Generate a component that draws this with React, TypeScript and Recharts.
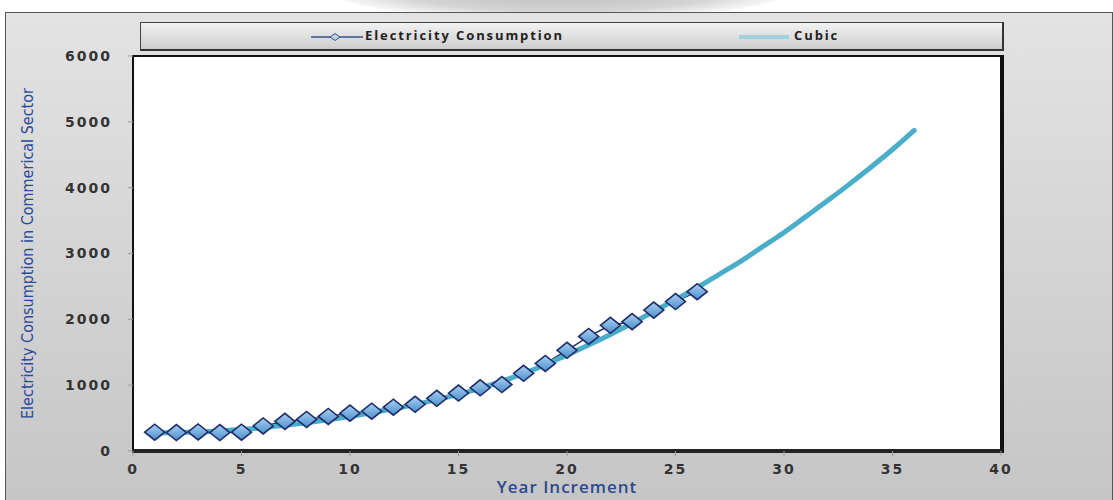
import { ComposedChart, Line, XAxis, YAxis } from 'recharts';

const years = [1, 2, 3, 4, 5, 6, 7, 8, 9, 10, 11, 12, 13, 14, 15, 16, 17, 18, 19, 20, 21, 22, 23, 24, 25, 26];
const consumption = [285, 280, 290, 280, 285, 380, 450, 480, 525, 575, 605, 665, 710, 800, 880, 960, 1010, 1180, 1330, 1530, 1740, 1910, 1965, 2140, 2270, 2420];

const cubicYears = [1, 2, 3, 4, 5, 6, 7, 8, 9, 10, 11, 12, 13, 14, 15, 16, 17, 18, 19, 20, 21, 22, 23, 24, 25, 26, 27, 28, 29, 30, 31, 32, 33, 34, 35, 36];
const cubicFit = [275, 280, 290, 305, 325, 355, 390, 430, 475, 525, 580, 640, 705, 780, 860, 950, 1060, 1180, 1310, 1460, 1610, 1770, 1940, 2120, 2300, 2480, 2680, 2880, 3100, 3320, 3560, 3800, 4050, 4310, 4580, 4870];

const xTicks = [0, 5, 10, 15, 20, 25, 30, 35, 40];
const yTicks = [0, 1000, 2000, 3000, 4000, 5000, 6000];

const consumptionData = years.map((x, i) => ({ x, y: consumption[i] }));
const cubicData = cubicYears.map((x, i) => ({ x, y: cubicFit[i] }));

const tickStyle = { fontFamily: 'DejaVu Sans', fontWeight: 'bold', fontSize: 14, letterSpacing: 2, fill: '#333' };

function Diamond(props: any) {
  const { cx, cy } = props;
  if (cx == null || cy == null) return null;
  return (
    <polygon
      points={`${cx - 10},${cy} ${cx},${cy - 8} ${cx + 10},${cy} ${cx},${cy + 8}`}
      fill="url(#diamondFill)"
      stroke="#1f2c6a"
      strokeWidth={1.6}
    />
  );
}

function YTitle({ viewBox }: any) {
  const y = viewBox.y + viewBox.height / 2;
  return (
    <text
      x={27}
      y={y}
      transform={`rotate(-90 27 ${y})`}
      textAnchor="middle"
      dominantBaseline="central"
      style={{ fontFamily: "'DejaVu Sans Condensed', 'Liberation Sans Narrow', 'Roboto', sans-serif", fontSize: 16, fill: '#2b4a9a' }}
    >
      Electricity Consumption in Commerical Sector
    </text>
  );
}

function XTitle({ viewBox }: any) {
  const x = viewBox.x + viewBox.width / 2;
  return (
    <text
      x={x}
      y={493}
      textAnchor="middle"
      style={{ fontFamily: 'Open Sans', fontWeight: 600, fontSize: 17, letterSpacing: 1, fill: '#2e4a8c' }}
    >
      Year Increment
    </text>
  );
}

const legendText = { fontFamily: 'Open Sans', fontWeight: 'bold', fontSize: 13, letterSpacing: 1.9, color: '#222' } as const;

export default function App() {
  return (
    <div style={{ position: 'absolute', left: 0, top: 0, width: 1113, height: 500, overflow: 'hidden', background: '#fff' }}>
      <div style={{ position: 'absolute', left: 330, top: -40, width: 460, height: 60, borderRadius: '50%', background: 'radial-gradient(ellipse at center, #b8b8b8 0%, #d4d4d4 50%, rgba(255,255,255,0) 75%)' }} />
      <div style={{ position: 'absolute', left: 5, top: 12, width: 1106, height: 500, border: '1.5px solid #555', background: 'linear-gradient(#e3e3e3, #c5c5c5)' }} />
      <div style={{ position: 'absolute', left: 140, top: 22, width: 861, height: 26, border: '1px solid #444', borderRight: '2.5px solid #333', borderBottom: '2.5px solid #333', background: 'linear-gradient(#f2f2f2, #cdcdcd)' }}>
        <svg style={{ position: 'absolute', left: 168, top: 8 }} width={56} height={12}>
          <line x1={2} y1={6} x2={54} y2={6} stroke="#3b4f8c" strokeWidth={1.5} />
          <polygon points="21,6 26,2.5 31,6 26,9.5" fill="#b9d3ec" stroke="#3b4f8c" strokeWidth={1} />
        </svg>
        <span style={{ ...legendText, position: 'absolute', left: 224, top: 3 }}>Electricity Consumption</span>
        <svg style={{ position: 'absolute', left: 597, top: 8 }} width={52} height={12}>
          <line x1={1} y1={6} x2={51} y2={6} stroke="#9fd0dd" strokeWidth={4} />
        </svg>
        <span style={{ ...legendText, position: 'absolute', left: 653, top: 3 }}>Cubic</span>
      </div>
      <div style={{ position: 'absolute', left: 132, top: 55, width: 866, height: 392, background: '#fff', border: '2px solid #111', borderRight: '4px solid #111', borderBottom: '4px solid #222' }} />
      <div style={{ position: 'absolute', left: 0, top: 0 }}>
        <ComposedChart width={1113} height={500} margin={{ top: 56, right: 112, bottom: 0, left: 0 }}>
          <defs>
            <linearGradient id="diamondFill" x1="0" y1="0" x2="0" y2="1">
              <stop offset="0%" stopColor="#a9d0f0" />
              <stop offset="100%" stopColor="#4a8fcc" />
            </linearGradient>
          </defs>
          <XAxis
            type="number"
            dataKey="x"
            domain={[0, 40]}
            ticks={xTicks}
            allowDataOverflow
            height={49}
            axisLine={false}
            tickLine={{ stroke: '#999' }}
            tickSize={5}
            tickMargin={8}
            tick={tickStyle}
            label={<XTitle />}
          />
          <YAxis
            type="number"
            dataKey="y"
            domain={[0, 6000]}
            ticks={yTicks}
            width={133}
            axisLine={false}
            tickLine={{ stroke: '#999' }}
            tickSize={5}
            tickMargin={16}
            tick={tickStyle}
            label={<YTitle />}
          />
          <Line
            data={consumptionData}
            dataKey="y"
            stroke="#1f2c6a"
            strokeWidth={1.5}
            dot={<Diamond />}
            activeDot={false}
            isAnimationActive={false}
          />
          <Line
            data={cubicData}
            dataKey="y"
            type="monotone"
            stroke="#4aaecb"
            strokeWidth={5}
            strokeLinecap="round"
            dot={false}
            activeDot={false}
            isAnimationActive={false}
          />
        </ComposedChart>
      </div>
    </div>
  );
}
